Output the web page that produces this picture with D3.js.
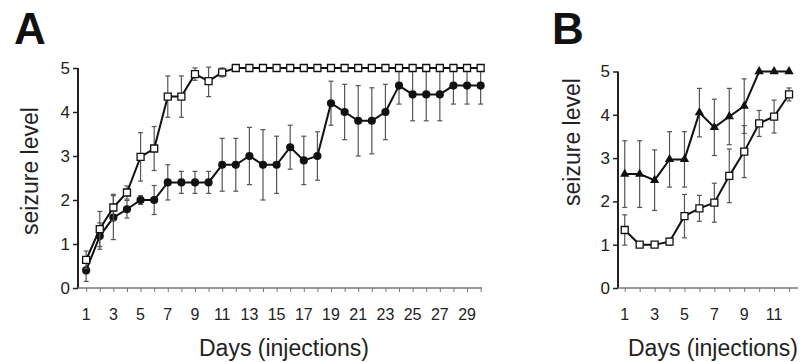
<!DOCTYPE html>
<html>
<head>
<meta charset="utf-8">
<script src="https://cdn.jsdelivr.net/npm/d3@7"></script>
<style>
  body { margin: 0; background: #fff; }
  svg { display: block; font-family: Arial, "Liberation Sans", sans-serif; }
</style>
</head>
<body>
<svg id="chart" width="808" height="362"></svg>
<script>
// panel A: 30 days
var daysA = d3.range(1, 31);
var openA = [0.64, 1.34, 1.83, 2.17, 2.98, 3.17, 4.35, 4.35, 4.86, 4.7, 4.9, 5, 5, 5, 5, 5, 5, 5, 5, 5, 5, 5, 5, 5, 5, 5, 5, 5, 5, 5];
var openAerr = [0.2, 0.4, 0.3, 0.15, 0.55, 0.5, 0.47, 0.47, 0.14, 0.35, 0.1, 0, 0, 0, 0, 0, 0, 0, 0, 0, 0, 0, 0, 0, 0, 0, 0, 0, 0, 0];
var filledA = [0.4, 1.18, 1.6, 1.79, 2.0, 2.0, 2.4, 2.4, 2.4, 2.4, 2.8, 2.8, 3.0, 2.8, 2.8, 3.2, 2.9, 3.0, 4.2, 4.0, 3.8, 3.8, 4.0, 4.6, 4.4, 4.4, 4.4, 4.6, 4.6, 4.6];
var filledAerr = [0.25, 0.3, 0.5, 0.2, 0.1, 0.33, 0.4, 0.25, 0.25, 0.25, 0.6, 0.6, 0.65, 0.8, 0.65, 0.5, 0.55, 0.55, 0.5, 0.63, 0.8, 0.75, 0.63, 0.42, 0.6, 0.6, 0.6, 0.42, 0.42, 0.42];
var tickLabelsA = d3.range(1, 30, 2);

// panel B: 12 days
var daysB = d3.range(1, 13);
var triB = [2.63, 2.63, 2.49, 2.97, 2.97, 4.05, 3.71, 3.96, 4.2, 5, 5, 5];
var triBerr = [0.77, 0.77, 0.7, 0.64, 0.64, 0.56, 0.65, 0.65, 0.63, 0, 0, 0];
var openB = [1.34, 1.0, 1.0, 1.07, 1.66, 1.84, 1.97, 2.59, 3.15, 3.8, 3.96, 4.47];
var openBerr = [0.35, 0.05, 0.05, 0.08, 0.5, 0.3, 0.45, 0.62, 0.6, 0.3, 0.38, 0.15];
var tickLabelsB = d3.range(1, 12, 2);

var yTicks = [0, 1, 2, 3, 4, 5];

var svg = d3.select("#chart");

function panel(opt) {
  var g = svg.append("g");
  var x = d3.scaleLinear().domain(opt.xDomain).range(opt.xRange);
  var y = d3.scaleLinear().domain([0, 5]).range(opt.yRange);

  // y axis
  var ya = g.append("g")
    .attr("transform", "translate(" + opt.xRange[0] + ",0)")
    .call(d3.axisLeft(y).tickValues(yTicks).tickSize(5).tickPadding(3).tickFormat(d3.format("d")));
  ya.select(".domain").attr("d", "M0," + y(0) + "V" + y(5)).attr("stroke", "#222").attr("stroke-width", 2);
  ya.selectAll(".tick line").attr("stroke", "#222").attr("stroke-width", 1.5);
  ya.selectAll(".tick text").attr("font-size", 17).attr("fill", "#222").attr("font-family", "Arial, Liberation Sans, sans-serif");

  // x axis
  var xa = g.append("g")
    .attr("transform", "translate(0," + y(0) + ")")
    .call(d3.axisBottom(x).tickValues(opt.days).tickSize(4).tickFormat(""));
  xa.select(".domain").attr("d", "M" + opt.xRange[0] + ",0H" + opt.xRange[1]).attr("stroke", "#777").attr("stroke-width", 1.5);
  xa.selectAll(".tick line").attr("stroke", "#777");
  g.append("g").selectAll("text")
    .data(opt.labels).enter().append("text")
    .attr("x", function(d) { return x(d); })
    .attr("y", y(0) + 32)
    .attr("text-anchor", "middle")
    .attr("font-size", 16).attr("fill", "#222")
    .text(function(d) { return d; });

  g.append("text")
    .attr("transform", "translate(" + opt.yTitleX + "," + opt.yTitleY + ") rotate(-90)")
    .attr("text-anchor", "middle")
    .attr("font-size", 23).attr("fill", "#222")
    .text("seizure level");
  g.append("text")
    .attr("x", opt.xTitleX).attr("y", 356)
    .attr("text-anchor", "middle")
    .attr("font-size", 23).attr("fill", "#222")
    .text("Days (injections)");
  g.append("text")
    .attr("x", opt.letterX).attr("y", 44)
    .attr("font-size", 44).attr("font-weight", "bold").attr("fill", "#111")
    .text(opt.letter);

  var line = d3.line().x(function(d) { return x(d.day); }).y(function(d) { return y(d.v); });

  opt.series.forEach(function(s) {
    var pts = opt.days.map(function(d, i) { return { day: d, v: s.values[i], e: s.err[i] }; });
    var eb = g.append("g");
    pts.forEach(function(p) {
      if (!p.e) return;
      var hi = Math.min(5.02, p.v + p.e);
      eb.append("line").attr("x1", x(p.day)).attr("x2", x(p.day)).attr("y1", y(p.v - p.e)).attr("y2", y(hi))
        .attr("stroke", "#555").attr("stroke-width", 1.2);
      [p.v - p.e, hi].forEach(function(v) {
        eb.append("line").attr("x1", x(p.day) - 2.5).attr("x2", x(p.day) + 2.5).attr("y1", y(v)).attr("y2", y(v))
          .attr("stroke", "#555").attr("stroke-width", 1.2);
      });
    });
    g.append("path").datum(pts).attr("d", line).attr("fill", "none").attr("stroke", "#111").attr("stroke-width", 2);
    var m = g.append("g").selectAll("path").data(pts).enter().append("path")
      .attr("transform", function(d) { return "translate(" + x(d.day) + "," + y(d.v) + ")"; });
    if (s.shape == "square") {
      m.attr("d", "M-3.5,-3.5H3.5V3.5H-3.5Z").attr("fill", "#fff").attr("stroke", "#111").attr("stroke-width", 1.3);
    } else if (s.shape == "circle") {
      m.attr("d", d3.symbol(d3.symbolCircle, 52)).attr("fill", "#111");
    } else {
      m.attr("d", d3.symbol(d3.symbolTriangle, 38)).attr("fill", "#111");
    }
  });
}

panel({
  letter: "A", letterX: 14,
  xDomain: [0.4, 30.1], xRange: [78, 482], yRange: [288, 68],
  days: daysA, labels: tickLabelsA,
  yTitleX: 38, yTitleY: 171, xTitleX: 284,
  series: [
    { values: filledA, err: filledAerr, shape: "circle" },
    { values: openA, err: openAerr, shape: "square" }
  ]
});

panel({
  letter: "B", letterX: 552,
  xDomain: [0.55, 12.6], xRange: [618, 798], yRange: [288, 71.5],
  days: daysB, labels: tickLabelsB,
  yTitleX: 580, yTitleY: 142, xTitleX: 713,
  series: [
    { values: openB, err: openBerr, shape: "square" },
    { values: triB, err: triBerr, shape: "triangle" }
  ]
});
</script>
</body>
</html>
